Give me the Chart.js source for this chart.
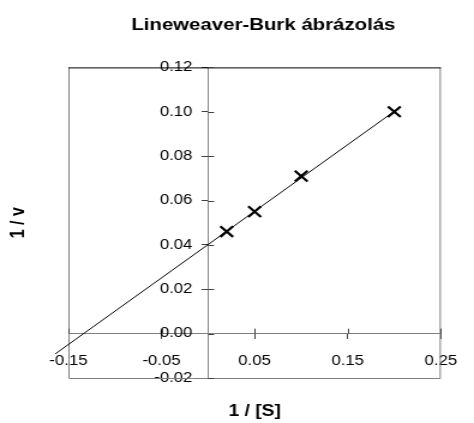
<!DOCTYPE html>
<html>
<head>
<meta charset="utf-8">
<script src="https://cdn.jsdelivr.net/npm/chart.js@4.4.0/dist/chart.umd.min.js"></script>
<style>
  body { margin: 0; background: #fff; }
</style>
</head>
<body>
<!-- drawn narrower, then stretched sideways like the original picture -->
<canvas id="lbChart" width="395" height="423" style="width:474px;height:423px"></canvas>
<script>
// Data
const invS = [0.02, 0.05, 0.1, 0.2];
const invV = [0.046, 0.055, 0.071, 0.1];
const trendX = [-0.164, 0.2];
const trendY = [-0.0091, 0.1002];
const xTicks = [-0.15, -0.05, 0.05, 0.15, 0.25];
const yTicks = [-0.02, 0, 0.02, 0.04, 0.06, 0.08, 0.1, 0.12];

const chartTitle = "Lineweaver-Burk ábrázolás";
const xTitle = "1 / [S]";
const yTitle = "1 / v";

const FONT = "'Liberation Sans', Arial, sans-serif";
const TICK_LEN = 5;
const Y_LABEL_GAP = 13; // y labels sit this far left of the axis

// frame, inner half of the cross ticks, axis titles
const framePlugin = {
  id: "frame",
  beforeDraw(chart) {
    // axis placed at x = 0 ignores ticks.padding, so move its labels here
    const y = chart.scales.y;
    const x0 = chart.scales.x.getPixelForValue(0);
    y.getLabelItems().forEach(item => {
      item.options.translation[0] = x0 - Y_LABEL_GAP;
    });
  },
  beforeDatasetsDraw(chart) {
    const { ctx, chartArea: a, scales } = chart;
    const x0 = scales.x.getPixelForValue(0);
    const y0 = scales.y.getPixelForValue(0);
    ctx.save();
    ctx.lineWidth = 1;
    ctx.strokeStyle = "#808080";
    ctx.beginPath();
    ctx.moveTo(a.left + 0.5, a.top);
    ctx.lineTo(a.left + 0.5, a.bottom + 0.5);
    ctx.lineTo(a.right - 0.5, a.bottom + 0.5);
    ctx.lineTo(a.right - 0.5, a.top);
    ctx.stroke();
    ctx.strokeStyle = "#000";
    ctx.beginPath();
    ctx.moveTo(a.left, a.top + 0.5);
    ctx.lineTo(a.right, a.top + 0.5);
    ctx.stroke();

    ctx.strokeStyle = "#404040";
    ctx.beginPath();
    scales.x.ticks.forEach(t => {
      const px = Math.round(scales.x.getPixelForValue(t.value)) + 0.5;
      ctx.moveTo(px, y0);
      ctx.lineTo(px, y0 - TICK_LEN);
    });
    scales.y.ticks.forEach(t => {
      const py = Math.round(scales.y.getPixelForValue(t.value)) + 0.5;
      ctx.moveTo(x0, py);
      ctx.lineTo(x0 + TICK_LEN, py);
    });
    ctx.stroke();
    ctx.restore();
  },
  afterDraw(chart) {
    const { ctx, chartArea: a } = chart;
    ctx.save();
    ctx.fillStyle = "#000";
    ctx.font = "bold 16px " + FONT;
    ctx.textAlign = "center";
    ctx.textBaseline = "middle";
    ctx.fillText(xTitle, (a.left + a.right) / 2, 412);
    ctx.translate(16, (a.top + a.bottom) / 2);
    ctx.rotate(-Math.PI / 2);
    ctx.fillText(yTitle, 0, 0);
    ctx.restore();
  }
};

const lbChart = new Chart(document.getElementById("lbChart"), {
  type: "scatter",
  data: {
    datasets: [
      {
        label: "mért",
        data: invS.map((x, i) => ({ x: x, y: invV[i] })),
        pointStyle: "crossRot",
        radius: 7.5,
        hoverRadius: 7.5,
        borderWidth: 2.2,
        borderColor: "#000",
        backgroundColor: "#000"
      },
      {
        label: "illesztés",
        type: "line",
        data: trendX.map((x, i) => ({ x: x, y: trendY[i] })),
        borderColor: "#000",
        borderWidth: 1,
        pointRadius: 0,
        clip: false
      }
    ]
  },
  options: {
    responsive: false,
    animation: false,
    layout: { padding: { left: 57, right: 13, top: 0, bottom: 45 } },
    plugins: {
      legend: { display: false },
      tooltip: { enabled: false },
      title: {
        display: true,
        text: chartTitle,
        color: "#000",
        font: { family: FONT, size: 17, weight: "bold" },
        padding: { top: 15, bottom: 32 }
      }
    },
    scales: {
      x: {
        type: "linear",
        min: -0.15,
        max: 0.25,
        position: { y: 0 },
        afterBuildTicks: (scale) => { scale.ticks = xTicks.map(v => ({ value: v })); },
        grid: { drawOnChartArea: false, tickLength: TICK_LEN, color: "#404040" },
        border: { color: "#808080" },
        ticks: {
          color: "#000",
          padding: 14,
          maxRotation: 0,
          autoSkip: false,
          font: { family: FONT, size: 14 },
          callback: (v) => v.toFixed(2)
        }
      },
      y: {
        type: "linear",
        min: -0.02,
        max: 0.12,
        position: { x: 0 },
        afterBuildTicks: (scale) => { scale.ticks = yTicks.map(v => ({ value: v })); },
        grid: { drawOnChartArea: false, tickLength: TICK_LEN, color: "#404040" },
        border: { color: "#808080" },
        ticks: {
          color: "#000",
          autoSkip: false,
          font: { family: FONT, size: 14 },
          callback: (v) => v.toFixed(2)
        }
      }
    }
  },
  plugins: [framePlugin]
});
</script>
</body>
</html>
